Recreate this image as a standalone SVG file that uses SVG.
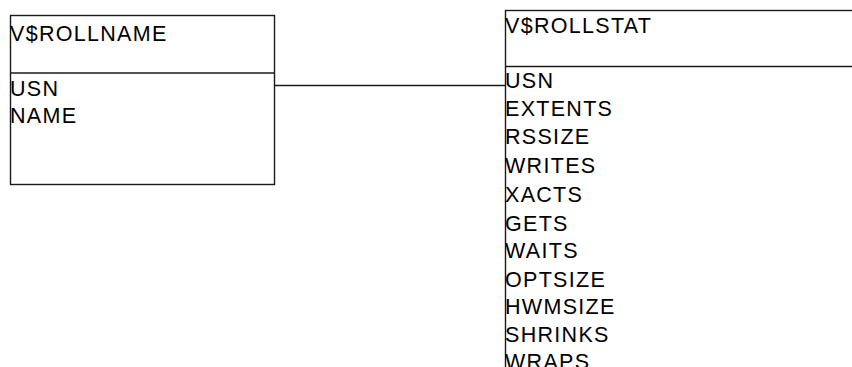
<svg xmlns="http://www.w3.org/2000/svg" width="852" height="367" viewBox="0 0 852 367">
  <style>
    .box { fill: #ffffff; stroke: #1a1a1a; stroke-width: 1.4; }
    .sep { stroke: #1a1a1a; stroke-width: 1.4; }
    .link { stroke: #1a1a1a; stroke-width: 1.4; fill: none; }
    text { font-family: "Liberation Sans", Arial, sans-serif; font-size: 21.5px; letter-spacing: 1.3px; fill: #000000; }
  </style>
  <rect x="0" y="0" width="852" height="367" fill="#ffffff"/>

  <g id="connectors">
    <line class="link" x1="274" y1="85.5" x2="506" y2="85.5"/>
  </g>

  <g id="v_rollname">
    <rect class="box" x="10.5" y="15.5" width="264" height="169"/>
    <line class="sep" x1="10.5" y1="73" x2="274.5" y2="73"/>
    <text x="10" y="40.5" letter-spacing="2">V$ROLLNAME</text>
    <text x="10" y="95.5">USN</text>
    <text x="10" y="123">NAME</text>
  </g>

  <g id="v_rollstat">
    <rect class="box" x="505.5" y="10.5" width="360" height="380"/>
    <line class="sep" x1="505.5" y1="66.5" x2="852" y2="66.5"/>
    <text x="505" y="33" letter-spacing="1.6">V$ROLLSTAT</text>
    <text x="505" y="88">USN</text>
    <text x="505" y="116">EXTENTS</text>
    <text x="505" y="144">RSSIZE</text>
    <text x="505" y="172.5">WRITES</text>
    <text x="505" y="202">XACTS</text>
    <text x="505" y="231">GETS</text>
    <text x="505" y="258">WAITS</text>
    <text x="505" y="287">OPTSIZE</text>
    <text x="505" y="314">HWMSIZE</text>
    <text x="505" y="341.5">SHRINKS</text>
    <text x="505" y="369">WRAPS</text>
  </g>
</svg>
